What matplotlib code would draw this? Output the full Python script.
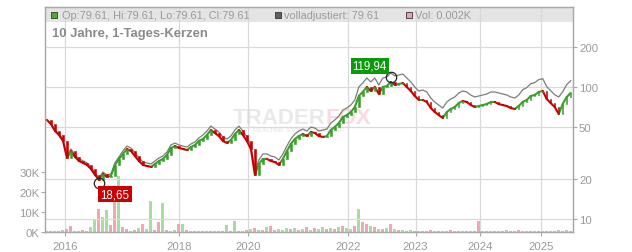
import numpy as np
import matplotlib
matplotlib.use("Agg")
import matplotlib.pyplot as plt
from matplotlib.patches import Rectangle
from matplotlib.collections import LineCollection
from matplotlib.ticker import FixedLocator, NullLocator, FixedFormatter

plt.rcParams['font.family'] = ['Liberation Sans', 'DejaVu Sans']

# ---------------- data ----------------
close = [56.2, 52.4, 46.4, 43.3, 39.0, 29.0, 32.7, 29.5, 27.5, 26.6,
         25.7, 23.9, 21.6, 19.8, 21.9, 20.8, 21.2, 25.7, 28.5, 31.1,
         33.9, 32.7, 30.0, 27.5, 25.7, 25.2, 24.8, 26.1, 27.5, 28.5,
         30.5, 34.5, 35.7, 34.5, 33.9, 33.3, 35.1, 36.3, 39.0, 40.4,
         43.3, 47.2, 44.8, 42.5, 39.0, 37.6, 39.7, 44.0, 47.2, 43.3,
         39.0, 33.9, 21.6, 26.1, 28.5, 28.5, 27.5, 27.0, 25.7, 28.5,
         32.7, 37.0, 40.4, 42.5, 44.0, 42.5, 45.6, 44.8, 42.5, 41.8,
         42.5, 47.2, 49.8, 53.3, 59.2, 61.3, 64.6, 70.5, 85.5, 91.7,
         100.0, 93.3, 100.0, 88.5, 100.0, 101.8, 109.1, 103.6, 105.4, 107.2,
         100.0, 93.3, 85.5, 79.7, 79.7, 77.0, 69.3, 64.6, 61.3, 58.2,
         64.6, 68.1, 70.5, 75.6, 78.3, 77.0, 73.0, 70.5, 71.8, 73.0,
         74.3, 77.0, 77.0, 74.3, 73.0, 71.8, 69.3, 68.1, 71.8, 77.0,
         79.7, 85.5, 87.0, 91.7, 93.3, 81.1, 75.6, 70.5, 62.4, 74.3,
         84.0, 90.1]

adjusted = [56.2, 52.4, 47.2, 44.1, 40.4, 30.0, 33.9, 30.6, 28.5, 27.6,
            26.6, 24.8, 22.4, 20.5, 22.7, 21.5, 22.0, 26.6, 29.5, 32.8,
            35.7, 34.5, 31.6, 29.0, 27.1, 26.6, 26.1, 27.5, 29.0, 30.0,
            32.1, 36.4, 37.6, 36.4, 35.7, 35.1, 37.0, 38.3, 41.1, 43.3,
            46.4, 50.6, 48.0, 45.6, 41.8, 40.3, 42.6, 47.2, 50.6, 46.4,
            41.8, 36.3, 23.2, 28.0, 31.1, 31.1, 30.0, 29.5, 28.0, 31.1,
            35.7, 40.4, 44.1, 46.4, 48.0, 46.4, 49.7, 48.9, 46.4, 47.2,
            48.0, 53.3, 56.3, 60.2, 66.9, 69.3, 73.0, 79.7, 100.0, 107.3,
            117.0, 109.2, 117.0, 103.5, 117.0, 119.1, 127.6, 121.2, 123.3, 125.4,
            117.0, 109.2, 100.0, 93.2, 94.9, 91.7, 82.5, 76.9, 73.0, 69.3,
            76.9, 81.1, 84.0, 90.0, 93.3, 91.7, 86.9, 84.0, 85.5, 86.9,
            88.5, 91.7, 91.7, 90.1, 88.5, 87.0, 84.0, 82.5, 87.0, 95.5,
            98.8, 106.0, 107.9, 113.7, 115.7, 100.6, 93.7, 87.4, 84.0, 92.1,
            104.2, 111.7]

volume_k = [0.8, 0.6, 0.5, 0.9, 1.0, 1.5, 3.3, 0.8, 0.7, 1.2,
            0.9, 2.5, 6.5, 11.6, 7.5, 11.0, 3.5, 22.0, 28.0, 2.5,
            1.5, 0.8, 1.2, 2.0, 4.0, 1.5, 15.8, 1.0, 5.0, 14.6,
            1.2, 0.8, 1.0, 4.0, 4.0, 1.0, 0.7, 0.9, 0.6, 0.8,
            0.5, 0.9, 0.6, 0.8, 0.7, 3.8, 0.6, 5.6, 0.8, 0.6,
            1.0, 1.5, 2.0, 1.2, 1.0, 2.6, 3.0, 1.2, 1.8, 1.0,
            2.0, 1.5, 2.2, 1.3, 1.8, 2.6, 1.2, 2.4, 1.5, 2.8,
            1.9, 2.3, 1.6, 2.5, 3.3, 2.2, 1.8, 3.0, 11.6, 5.3,
            4.0, 3.0, 2.5, 1.8, 1.5, 2.0, 4.0, 1.8, 1.2, 1.0,
            0.8, 1.2, 0.6, 0.5, 0.8, 0.6, 1.0, 0.7, 0.5, 0.9,
            0.6, 1.1, 0.7, 0.5, 0.8, 0.6, 0.9, 0.5, 5.8, 0.7,
            0.6, 0.9, 0.5, 0.7, 0.6, 1.0, 0.5, 0.8, 1.1, 0.6,
            0.7, 0.9, 0.5, 0.8, 0.6, 0.7, 0.5, 0.9, 1.0, 0.6,
            1.2, 0.8]

vol_dir = ("rrgrgrrggr" "gggrggrrgr" "rgrgrggrrg" "rggrgrgrgr" "grgrrgrgrg"
           "rgrgrgrrgg" "grgrgrgrgg" "rgrgrggrgr" "rgrgrgrgrg" "rgrgrgrgrg"
           "grgrgrgrrg" "rgrgrgrgrg" "grgrgrgrgr" "gr")

year_labels = ["2016", "2018", "2020", "2022", "2023", "2024", "2025"]
year_pos = [4.5, 33.1, 50.3, 75.2, 92.2, 108.3, 123.6]
price_ticks = [10, 20, 50, 100, 200]
vol_ticks = [0, 10, 20, 30]
low_value = 18.65
high_value = 119.94
low_label = "18,65"
high_label = "119,94"
legend_ohlc = "Op:79.61, Hi:79.61, Lo:79.61, Cl:79.61"
legend_adj = "volladjustiert: 79.61"
legend_vol = "Vol: 0.002K"
title = "10 Jahre, 1-Tages-Kerzen"

# ---------------- figure ----------------
W, H = 632, 253
fig = plt.figure(figsize=(W / 100, H / 100), dpi=100)
fig.patch.set_facecolor("white")
L, R, B, T = 45, 572.7, 233.3, 8.3


def fx(px):
    return px / W


def fy(py):
    return 1 - py / H


axv = fig.add_axes([fx(L), fy(B), (R - L) / W, (B - T) / H])
axp = axv.twinx()

close = np.array(close)
adjusted = np.array(adjusted)
volume_k = np.array(volume_k)
n = len(close)
x = np.arange(n)

GREEN = "#3a9f2a"
RED = "#c80000"
GRID = "#d9d9d9"
SPINE = "#a8a8a8"
TXT = "#9a9a9a"

# legend band
axv.add_patch(Rectangle((0, 1 - 14.4 / (B - T)), 1, 14.4 / (B - T),
                        transform=axv.transAxes, fc="#e4e4e4", ec="none", zorder=0.1))

# watermark
wm = axv.text(fx(233), fy(123.5), "TRADER", transform=fig.transFigure, fontsize=16,
              fontweight="bold", color="#e9e9e9", ha="left", va="baseline", zorder=0.2)
axv.annotate("FOX", xy=(1.0, 0.0), xycoords=wm, ha="left", va="bottom",
             fontsize=16, fontweight="bold", color="#f8dcdc", zorder=0.2)
axv.text(fx(253), fy(132), "REALTIME STOCK SCREENER", transform=fig.transFigure,
         fontsize=4.5, fontweight="bold", color="#ebebeb", ha="left",
         va="baseline", zorder=0.2)

# volume
vcolors = ["#a9dca0" if c == "g" else "#f2a6b0" for c in vol_dir]
axv.bar(x, volume_k, width=0.75, color=vcolors, zorder=1)
axv.set_ylim(0, (B - T) / 20.0 * 10)
axv.set_xlim(-0.5, n - 0.5)
axv.set_axisbelow(True)
axv.xaxis.set_major_locator(FixedLocator(year_pos))
axv.set_xticklabels(year_labels)
axv.xaxis.grid(True, color=GRID, lw=0.9)
axv.yaxis.set_major_locator(FixedLocator(vol_ticks))
axv.set_yticklabels([f"{v}K" for v in vol_ticks])
axv.tick_params(axis="y", left=True, length=3, color=SPINE, labelsize=8.2,
                labelcolor=TXT, pad=1)
axv.tick_params(axis="x", length=3, color=SPINE, labelsize=8.2,
                labelcolor=TXT, pad=3)
axv.patch.set_visible(False)

# price: adjusted line + candle trace (open = previous close)
opens = np.r_[close[0], close[:-1]]
up = close >= opens
ccol = [GREEN if u else RED for u in up]
axp.plot(x, adjusted, color="#7c7c7c", lw=0.9, zorder=2)
segs = [[(i - 1, opens[i]), (i, close[i])] for i in range(1, n)]
seg_cols = ccol[1:]
axp.add_collection(LineCollection(segs, colors=seg_cols, linewidths=1.5,
                                  capstyle="round", zorder=3))
axp.bar(x, np.abs(close - opens), bottom=np.minimum(opens, close), width=0.35,
        color=ccol, edgecolor=ccol, linewidth=0.4, zorder=3)
axp.set_yscale("log")
axp.set_ylim(10 ** (2 - (B - 88) / 132), 10 ** (2 + (88 - T) / 132))
axp.yaxis.set_major_locator(FixedLocator(price_ticks))
axp.yaxis.set_major_formatter(FixedFormatter([str(p) for p in price_ticks]))
axp.yaxis.set_minor_locator(NullLocator())
axp.set_axisbelow(True)
axp.yaxis.grid(True, color=GRID, lw=0.9)
axp.tick_params(axis="y", right=True, length=3, color=SPINE, labelsize=8.2,
                labelcolor=TXT, pad=1.5)

for a in (axv, axp):
    for s in a.spines.values():
        s.set_color(SPINE)
        s.set_linewidth(0.9)

# extremes
i_low = int(np.argmin(close))
i_high = int(np.argmax(close))
axp.plot([i_low], [low_value], marker="o", ms=7.5, mfc="none", mec="#222222",
         mew=0.9, zorder=5)
axp.plot([i_high], [high_value], marker="o", ms=7.5, mfc="none", mec="#222222",
         mew=0.9, zorder=5)
axp.annotate(low_label, xy=(i_low, low_value), xytext=(16, -11),
             textcoords="offset pixels", ha="center", va="center", fontsize=8.3,
             color="white", zorder=6,
             bbox=dict(boxstyle="square,pad=0.18", fc="#cc0000", ec="none"))
axp.annotate(high_label, xy=(i_high, high_value), xytext=(-21, 11),
             textcoords="offset pixels", ha="center", va="center", fontsize=8.3,
             color="white", zorder=6,
             bbox=dict(boxstyle="square,pad=0.18", fc="#0a9a0a", ec="none"))

# legend row
sq = 6
fig.patches.append(Rectangle((fx(50.7), fy(18.7)), sq / W, sq / H, transform=fig.transFigure,
                             fc="#4aaa35", ec="#333333", lw=0.6, figure=fig))
fig.text(fx(62), fy(15.7), legend_ohlc, fontsize=7.9, color=TXT, va="center", ha="left")
fig.patches.append(Rectangle((fx(275), fy(18.7)), sq / W, sq / H, transform=fig.transFigure,
                             fc="#606060", ec="#333333", lw=0.6, figure=fig))
fig.text(fx(284.5), fy(15.7), legend_adj, fontsize=7.9, color=TXT, va="center", ha="left")
fig.patches.append(Rectangle((fx(406), fy(18.7)), sq / W, sq / H, transform=fig.transFigure,
                             fc="#f0a0a8", ec="#333333", lw=0.6, figure=fig))
fig.text(fx(414.5), fy(15.7), legend_vol, fontsize=7.9, color=TXT, va="center", ha="left")

fig.text(fx(52.5), fy(33.5), title, fontsize=9.4, fontweight="bold", color="#8a8a8a",
         va="center", ha="left")

fig.savefig("out.png", dpi=100, facecolor="white")
